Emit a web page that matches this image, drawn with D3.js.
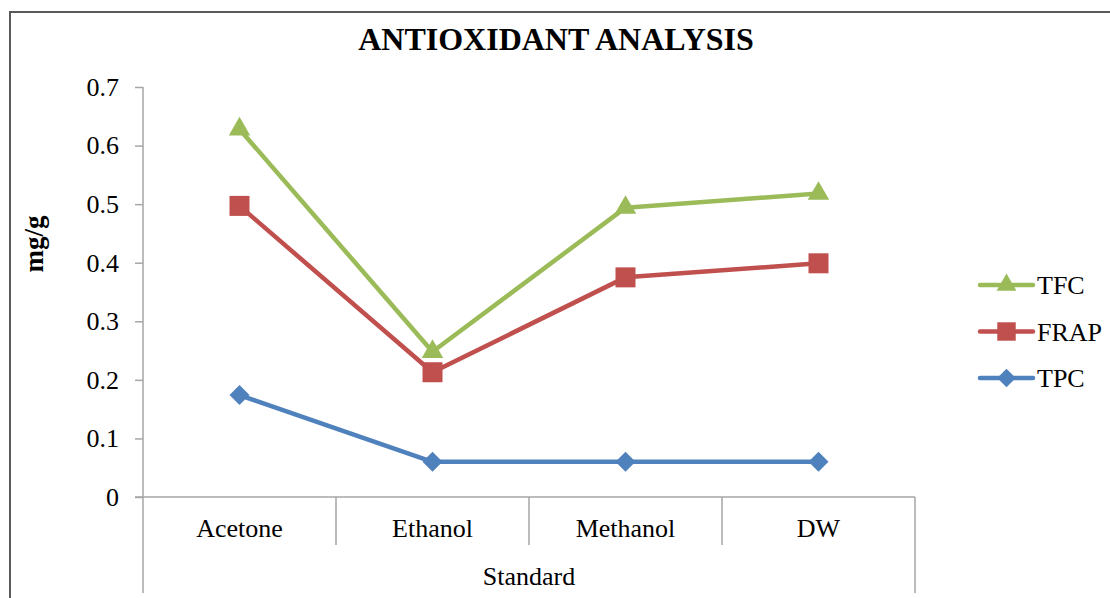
<!DOCTYPE html>
<html>
<head>
<meta charset="utf-8">
<script src="https://cdn.jsdelivr.net/npm/d3@7"></script>
<style>
  html, body { margin: 0; padding: 0; background: #fff; }
  svg { display: block; }
  svg text { font-family: "Liberation Serif", "Times New Roman", serif; fill: #000; }
</style>
</head>
<body>
<div id="chart"></div>
<script>
// données
const categories = ['Acetone', 'Ethanol', 'Methanol', 'DW'];
const tfc = [0.628, 0.248, 0.494, 0.518];
const frap = [0.497, 0.213, 0.375, 0.399];
const tpc = [0.174, 0.06, 0.06, 0.06];
const yTicks = [0, 0.1, 0.2, 0.3, 0.4, 0.5, 0.6, 0.7];

// losange "Excel" : carré tourné de 45°
const symbolRhombus = {
  draw(context, size) {
    const r = Math.sqrt(size) / 2 * Math.SQRT2;
    context.moveTo(0, -r);
    context.lineTo(r, 0);
    context.lineTo(0, r);
    context.lineTo(-r, 0);
    context.closePath();
  }
};

const series = [
  { name: 'TFC', values: tfc, color: '#9BBB59', symbol: d3.symbolTriangle, size: 200 },
  { name: 'FRAP', values: frap, color: '#C0504D', symbol: d3.symbolSquare, size: 400 },
  { name: 'TPC', values: tpc, color: '#4F81BD', symbol: symbolRhombus, size: 200 }
];

const W = 1110, H = 598;
const margin = { top: 87, right: 195, bottom: 101, left: 143 };
const width = W - margin.left - margin.right;
const height = H - margin.top - margin.bottom;

const svg = d3.select('#chart').append('svg')
  .attr('width', W)
  .attr('height', H);

// cadre extérieur
svg.append('path')
  .attr('d', `M10,${H} V12 H${W}`)
  .attr('fill', 'none')
  .attr('stroke', '#5a5a5a')
  .attr('stroke-width', 2);

// Titre
svg.append('text')
  .attr('x', 556)
  .attr('y', 50)
  .attr('text-anchor', 'middle')
  .style('font-size', '32px')
  .style('font-weight', '700')
  .text('ANTIOXIDANT ANALYSIS');

const g = svg.append('g')
  .attr('transform', `translate(${margin.left},${margin.top})`);

// Échelles
const x = d3.scaleBand().domain(categories).range([0, width]);
const y = d3.scaleLinear().domain([0, 0.7]).range([height, 0]);

// Axe Y
const yAxis = g.append('g')
  .call(d3.axisLeft(y).tickValues(yTicks).tickSize(8).tickPadding(16)
    .tickFormat(d => d === 0 ? '0' : d3.format('.1f')(d)));
yAxis.attr('font-family', '"Liberation Serif", serif').attr('font-size', 26);
yAxis.select('.domain').remove();
yAxis.selectAll('.tick line').attr('stroke', '#a6a6a6').attr('stroke-width', 1.5);
yAxis.selectAll('.tick text')
  .style('font-size', '26px')
  .attr('fill', '#000');

g.append('line')
  .attr('x1', 0).attr('x2', 0)
  .attr('y1', 0).attr('y2', height + 96)
  .attr('stroke', '#a6a6a6').attr('stroke-width', 1.5);

// Axe X (multi-niveaux)
g.append('line')
  .attr('x1', -8).attr('x2', width)
  .attr('y1', height).attr('y2', height)
  .attr('stroke', '#a6a6a6').attr('stroke-width', 1.5);

const xAxis = g.append('g')
  .attr('transform', `translate(0,${height})`)
  .call(d3.axisBottom(x).tickSize(0).tickPadding(22));
xAxis.attr('font-family', '"Liberation Serif", serif').attr('font-size', 26);
xAxis.select('.domain').remove();
xAxis.selectAll('.tick text')
  .style('font-size', '26px')
  .attr('fill', '#000');

// séparateurs de catégories
g.selectAll('.sep')
  .data(categories.slice(1))
  .join('line')
  .attr('class', 'sep')
  .attr('x1', d => x(d)).attr('x2', d => x(d))
  .attr('y1', height).attr('y2', height + 48)
  .attr('stroke', '#a6a6a6').attr('stroke-width', 1.5);

g.append('line')
  .attr('x1', width).attr('x2', width)
  .attr('y1', height).attr('y2', height + 96)
  .attr('stroke', '#a6a6a6').attr('stroke-width', 1.5);

g.append('text')
  .attr('x', width / 2)
  .attr('y', height + 88)
  .attr('text-anchor', 'middle')
  .style('font-size', '26px')
  .text('Standard');

// Titre axe Y
svg.append('text')
  .attr('transform', `translate(43,${margin.top + height / 2 - 48}) rotate(-90)`)
  .attr('text-anchor', 'middle')
  .style('font-size', '27px')
  .style('font-weight', '700')
  .text('mg/g');

// Lignes
const line = d3.line()
  .x((d, i) => x(categories[i]) + x.bandwidth() / 2)
  .y(d => y(d));

const drawOrder = [series[2], series[1], series[0]];
drawOrder.forEach(s => {
  g.append('path')
    .datum(s.values)
    .attr('fill', 'none')
    .attr('stroke', s.color)
    .attr('stroke-width', 4.5)
    .attr('stroke-linejoin', 'round')
    .attr('d', line);

  g.selectAll(null)
    .data(s.values)
    .join('path')
    .attr('transform', (d, i) => `translate(${x(categories[i]) + x.bandwidth() / 2},${y(d)})`)
    .attr('d', d3.symbol().type(s.symbol).size(s.size))
    .attr('fill', s.color);
});

// Légende
const legend = svg.append('g').attr('transform', 'translate(980,285)');
series.forEach((s, i) => {
  const row = legend.append('g').attr('transform', `translate(0,${i * 46.5})`);
  row.append('line')
    .attr('x1', 0).attr('x2', 53)
    .attr('stroke', s.color)
    .attr('stroke-width', 4.5)
    .attr('stroke-linecap', 'round');
  row.append('path')
    .attr('transform', 'translate(26.5,0)')
    .attr('d', d3.symbol().type(s.symbol).size(s.size * 0.85))
    .attr('fill', s.color);
  row.append('text')
    .attr('x', 57)
    .attr('y', 9)
    .style('font-size', '26px')
    .text(s.name);
});
</script>
</body>
</html>
